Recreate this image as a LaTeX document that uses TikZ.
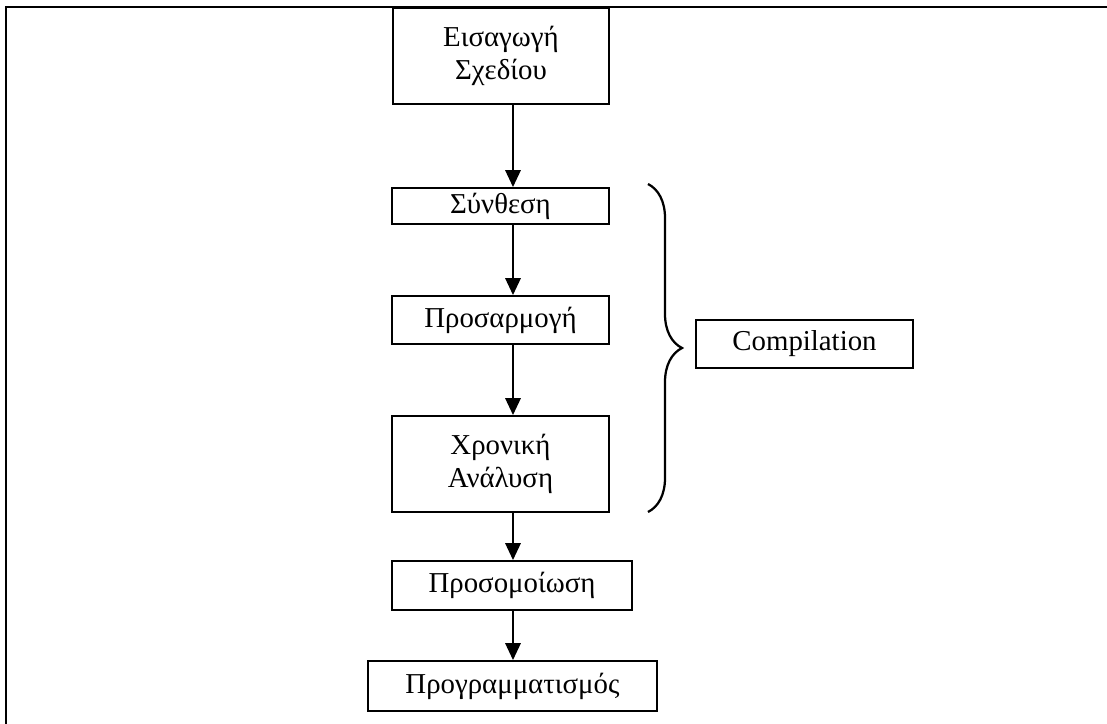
\documentclass[tikz,border=0pt]{standalone}
\usepackage{fontspec}
\setmainfont{Liberation Serif}
\usetikzlibrary{arrows.meta,decorations.pathreplacing}

\begin{document}
\begin{tikzpicture}[x=0.025cm,y=-0.025cm,
  every node/.style={font=\fontsize{20.5}{23}\selectfont},
  stepbox/.style={draw,line width=1.4pt,inner sep=0pt,align=center,minimum width=5.425cm},
  flow/.style={line width=1.2pt,-{Triangle[length=12pt,width=11pt]}}]
\useasboundingbox (0,0) rectangle (1107,724);
% frame
\draw [line width=1.8pt] (6,724) -- (6,7) -- (1107,7);
% design flow
\node [stepbox,minimum width=5.4cm,minimum height=2.4cm] (entry) at (501,56) {Εισαγωγή\\Σχεδίου};
\node [stepbox,minimum height=0.9cm] (synth) at (500.5,206) {Σύνθεση};
\node [stepbox,minimum height=1.2cm] (fit) at (500.5,320) {Προσαρμογή};
\node [stepbox,minimum height=2.4cm] (timing) at (500.5,464) {Χρονική\\Ανάλυση};
\node [stepbox,minimum width=6cm,minimum height=1.225cm] (sim) at (512,585.5) {Προσομοίωση};
\node [stepbox,minimum width=7.225cm,minimum height=1.25cm] (prog) at (512.5,686) {Προγραμματισμός};
\node [stepbox,minimum height=1.2cm] (compile) at (804.5,344) {Compilation};
\coordinate (axis) at (513,0);
\draw [flow] (entry.south -| axis) -- (synth.north -| axis);
\draw [flow] (synth.south -| axis) -- (fit.north -| axis);
\draw [flow] (fit.south -| axis) -- (timing.north -| axis);
\draw [flow] (timing.south -| axis) -- (sim.north -| axis);
\draw [flow] (sim.south -| axis) -- (prog.north -| axis);
% compilation steps
\coordinate (btop) at (648,184);
\coordinate (bbot) at (648,512);
\draw [line width=1.6pt,decorate,decoration={brace,amplitude=0.85cm}] (btop) -- (bbot);
\end{tikzpicture}
\end{document}
